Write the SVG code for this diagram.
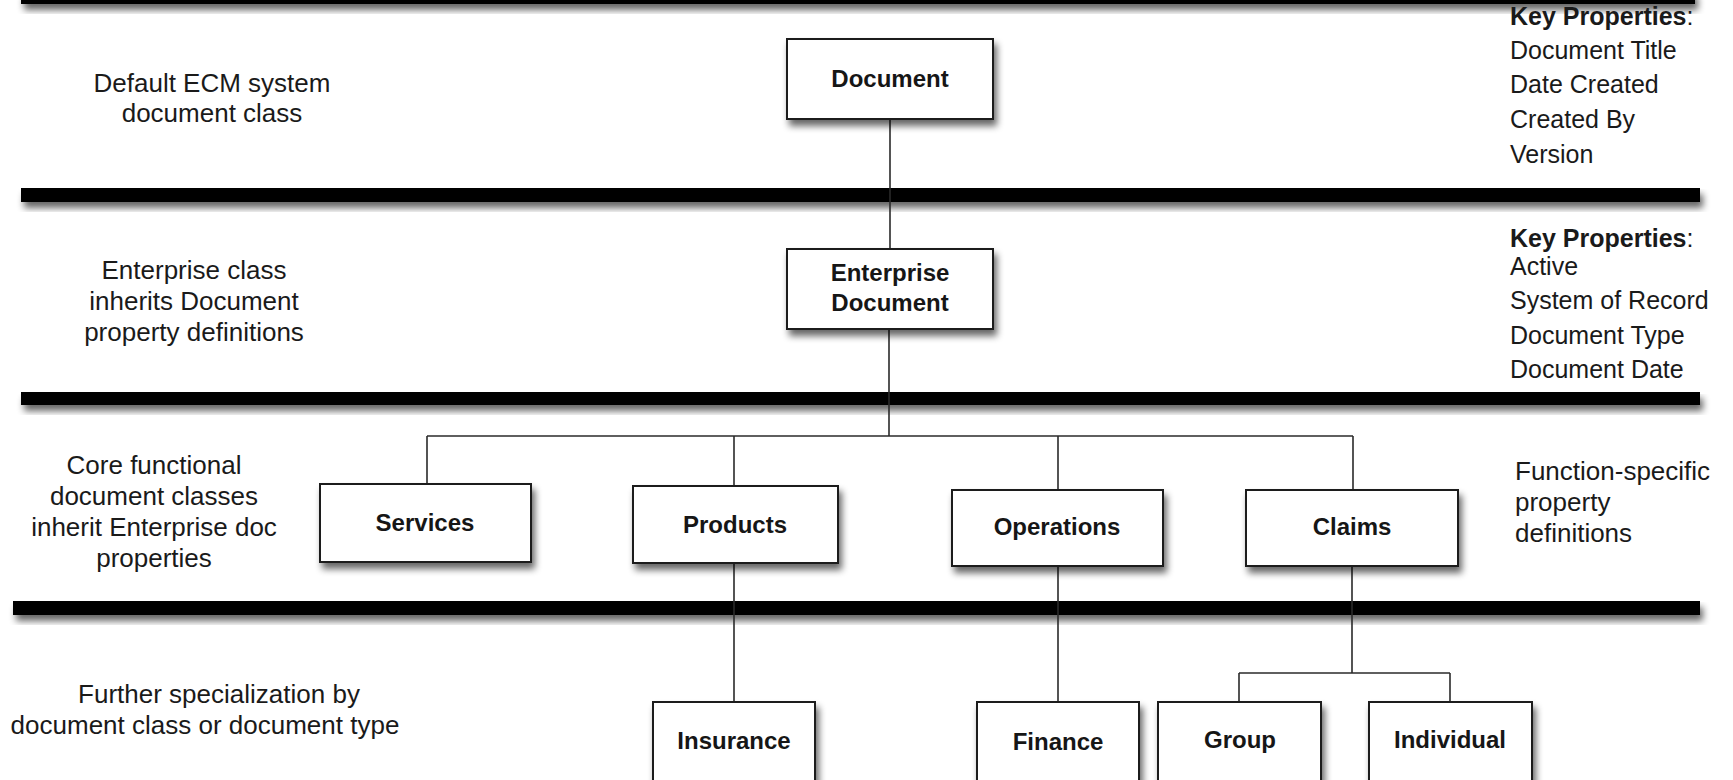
<svg xmlns="http://www.w3.org/2000/svg" width="1733" height="780" viewBox="0 0 1733 780">
  <defs>
    <filter id="shadow" x="-10%" y="-30%" width="120%" height="200%">
      <feGaussianBlur in="SourceAlpha" stdDeviation="3.5"/>
      <feOffset dx="3" dy="6" result="blur"/>
      <feComponentTransfer><feFuncA type="linear" slope="0.6"/></feComponentTransfer>
      <feMerge><feMergeNode/><feMergeNode in="SourceGraphic"/></feMerge>
    </filter>
    <style>
      .bar { fill: #000; filter: url(#shadow); }
      .box { fill: #fff; stroke: #1e1e1e; stroke-width: 2; filter: url(#shadow); }
      .lbl { font-family: "Liberation Sans", Arial, sans-serif; font-weight: bold; font-size: 24px; fill: #161616; text-anchor: middle; }
      .note { font-family: "Liberation Sans", Arial, sans-serif; font-size: 26px; fill: #1a1a1a; text-anchor: middle; }
      .prop { font-family: "Liberation Sans", Arial, sans-serif; font-size: 25px; fill: #1a1a1a; }
      .prop .head { font-weight: bold; }
      .conn { fill: none; stroke: #2a2a2a; stroke-width: 1.6; }
    </style>
  </defs>

  <rect width="1733" height="780" fill="#fff"/>

  <!-- level separators -->
  <g id="separators">
    <rect class="bar" x="21" y="-10" width="1674" height="14"/>
    <rect class="bar" x="21" y="188" width="1679" height="14"/>
    <rect class="bar" x="21" y="392" width="1679" height="13"/>
    <rect class="bar" x="13" y="601" width="1687" height="14"/>
  </g>

  <!-- left-hand level descriptions -->
  <g id="level-notes">
    <text class="note" x="212" y="92">Default ECM system</text>
    <text class="note" x="212" y="122">document class</text>
    <text class="note" x="194" y="279">Enterprise class</text>
    <text class="note" x="194" y="310">inherits Document</text>
    <text class="note" x="194" y="341">property definitions</text>
    <text class="note" x="154" y="474">Core functional</text>
    <text class="note" x="154" y="505">document classes</text>
    <text class="note" x="154" y="536">inherit Enterprise doc</text>
    <text class="note" x="154" y="567">properties</text>
    <text class="note" x="219" y="703">Further specialization by</text>
    <text class="note" x="205" y="734">document class or document type</text>
  </g>

  <!-- right-hand property lists -->
  <g id="property-notes" class="prop">
    <text x="1510" y="25"><tspan class="head">Key Properties</tspan>:</text>
    <text x="1510" y="59">Document Title</text>
    <text x="1510" y="93">Date Created</text>
    <text x="1510" y="128">Created By</text>
    <text x="1510" y="163">Version</text>
    <text x="1510" y="247"><tspan class="head">Key Properties</tspan>:</text>
    <text x="1510" y="275">Active</text>
    <text x="1510" y="309">System of Record</text>
    <text x="1510" y="344">Document Type</text>
    <text x="1510" y="378">Document Date</text>
    <text x="1515" y="480" font-size="26">Function-specific</text>
    <text x="1515" y="511" font-size="26">property</text>
    <text x="1515" y="542" font-size="26">definitions</text>
  </g>

  <!-- connectors -->
  <g id="connectors" class="conn">
    <path d="M890 119 V249"/>
    <path d="M889 329 V436"/>
    <path d="M427 436 H1353"/>
    <path d="M427 436 V484"/>
    <path d="M734 436 V486"/>
    <path d="M1058 436 V490"/>
    <path d="M1353 436 V490"/>
    <path d="M734 563 V702"/>
    <path d="M1058 566 V702"/>
    <path d="M1352 566 V673"/>
    <path d="M1239 673 H1450"/>
    <path d="M1239 673 V702"/>
    <path d="M1450 673 V702"/>
  </g>

  <!-- class nodes -->
  <g id="node-document">
    <rect class="box" x="787" y="39" width="206" height="80"/>
    <text class="lbl" x="890" y="87">Document</text>
  </g>
  <g id="node-enterprise-document">
    <rect class="box" x="787" y="249" width="206" height="80"/>
    <text class="lbl" x="890" y="281">Enterprise</text>
    <text class="lbl" x="890" y="311">Document</text>
  </g>
  <g id="node-services">
    <rect class="box" x="320" y="484" width="211" height="78"/>
    <text class="lbl" x="425" y="531">Services</text>
  </g>
  <g id="node-products">
    <rect class="box" x="633" y="486" width="205" height="77"/>
    <text class="lbl" x="735" y="533">Products</text>
  </g>
  <g id="node-operations">
    <rect class="box" x="952" y="490" width="211" height="76"/>
    <text class="lbl" x="1057" y="535">Operations</text>
  </g>
  <g id="node-claims">
    <rect class="box" x="1246" y="490" width="212" height="76"/>
    <text class="lbl" x="1352" y="535">Claims</text>
  </g>
  <g id="node-insurance">
    <rect class="box" x="653" y="702" width="162" height="110"/>
    <text class="lbl" x="734" y="749">Insurance</text>
  </g>
  <g id="node-finance">
    <rect class="box" x="977" y="702" width="162" height="110"/>
    <text class="lbl" x="1058" y="750">Finance</text>
  </g>
  <g id="node-group">
    <rect class="box" x="1158" y="702" width="163" height="110"/>
    <text class="lbl" x="1240" y="748">Group</text>
  </g>
  <g id="node-individual">
    <rect class="box" x="1369" y="702" width="163" height="110"/>
    <text class="lbl" x="1450" y="748">Individual</text>
  </g>
</svg>
